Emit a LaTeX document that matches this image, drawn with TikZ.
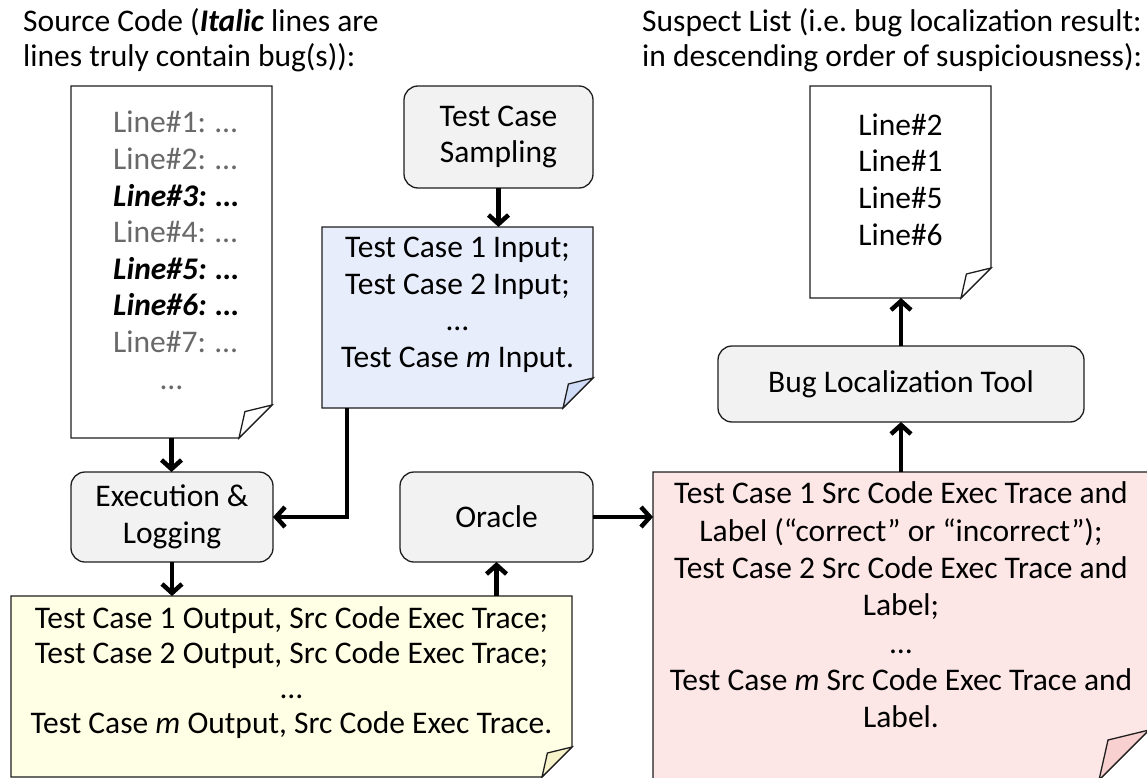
\documentclass[tikz,border=0pt]{standalone}
\usepackage{fontspec}
\setmainfont{Carlito}
\usetikzlibrary{arrows.meta}
\definecolor{procfill}{RGB}{242,242,242}
\definecolor{infill}{RGB}{231,237,251}
\definecolor{inflap}{RGB}{208,220,246}
\definecolor{outfill}{RGB}{255,255,229}
\definecolor{outflap}{RGB}{246,242,202}
\definecolor{trfill}{RGB}{253,230,230}
\definecolor{trflap}{RGB}{248,208,208}
\definecolor{srcgray}{RGB}{105,105,105}
\definecolor{edge}{RGB}{30,30,30}

% document outline with a folded bottom-right corner
% #1 node name, #2 fold size (pt), #3 paper fill, #4 flap fill
\newcommand\foldeddoc[4]{%
  \draw[docline, fill=#3] (#1.north west) -- (#1.north east)
    -- ([yshift=#2pt]#1.south east) -- ([xshift=-#2pt]#1.south east)
    -- (#1.south west) -- cycle;
  \draw[docline, fill=#4] ([yshift=#2pt]#1.south east)
    -- ([shift={(-0.82*#2pt,0.8*#2pt)}]#1.south east)
    -- ([xshift=-#2pt]#1.south east) -- cycle;
}

\begin{document}
\begin{tikzpicture}[x=1pt,y=-1pt,
  every node/.style={font=\fontsize{31.5}{36.6}\selectfont},
  proc/.style={draw=edge, line width=1.3pt, fill=procfill,
    rounded corners=14pt, align=center, inner sep=0pt, outer sep=0pt},
  docbox/.style={inner sep=0pt, outer sep=0pt},
  txt/.style={align=center, inner sep=0pt},
  docline/.style={draw=edge, line width=1.3pt, line join=miter},
  arr/.style={line width=4.5pt, -{Straight Barb[length=9pt,width=20pt]}},
]
\useasboundingbox (0,0) rectangle (1147,778);

% headings
\node[txt, align=left, anchor=west, font=\fontsize{31.5}{35}\selectfont] (srchead) at (23,40.5)
  {Source Code (\textbf{\textit{Italic}} lines are\\lines truly contain bug(s)):};
\node[txt, align=left, anchor=west, font=\fontsize{31.5}{35}\selectfont] (listhead) at (642,40.5)
  {Suspect List (i.e.\ bug localization result:\\in descending order of suspiciousness):};

% source code document
\node[docbox, minimum width=201pt, minimum height=352pt] (src) at (171.5,262) {};
\foldeddoc{src}{33}{white}{white}
\node[txt, align=left, anchor=west, text=srcgray] (srclines) at (113,232)
  {Line\#1: …\\Line\#2: …\\\textcolor{black}{\textbf{\textit{Line\#3: …}}}\\Line\#4: …\\
   \textcolor{black}{\textbf{\textit{Line\#5: …}}}\\\textcolor{black}{\textbf{\textit{Line\#6: …}}}\\Line\#7: …};
\node[txt, text=srcgray, anchor=base] (srcmore) at (171.5,389) {…};

% test case sampling and inputs
\node[proc, minimum width=189pt, minimum height=102pt] (sampling) at (498.5,137)
  {Test Case\\Sampling};
\node[docbox, minimum width=271pt, minimum height=181pt] (inputs) at (457.5,317.5) {};
\foldeddoc{inputs}{30}{infill}{inflap}
\node[txt] (inputtext) at (457.5,305)
  {Test Case 1 Input;\\Test Case 2 Input;\\…\\Test Case \textit{m} Input.};

% suspect list document
\node[docbox, minimum width=181pt, minimum height=212pt] (suspect) at (900.5,192) {};
\foldeddoc{suspect}{30}{white}{white}
\node[txt] (suspecttext) at (900.5,179.5)
  {Line\#2\\Line\#1\\Line\#5\\Line\#6};

% processing steps
\node[proc, minimum width=366pt, minimum height=76pt] (bugtool) at (901,384)
  {Bug Localization Tool};
\node[proc, minimum width=202pt, minimum height=90pt] (exec) at (172,517)
  {Execution \&\\Logging};
\node[proc, minimum width=193pt, minimum height=90pt] (oracle) at (496.5,517)
  {Oracle};

% execution outputs document
\node[docbox, minimum width=561pt, minimum height=181pt] (outputs) at (291.5,686.5) {};
\foldeddoc{outputs}{30}{outfill}{outflap}
\node[txt, font=\fontsize{31.5}{35}\selectfont] (outputtext) at (291.5,672.5)
  {Test Case 1 Output, Src Code Exec Trace;\\Test Case 2 Output, Src Code Exec Trace;\\…\\
   Test Case \textit{m} Output, Src Code Exec Trace.};

% labelled traces document
\node[docbox, minimum width=496pt, minimum height=308pt] (traces) at (901,626) {};
\foldeddoc{traces}{50}{trfill}{trflap}
\node[txt, font=\fontsize{31.5}{37.3}\selectfont] (tracetext) at (901,605)
  {Test Case 1 Src Code Exec Trace and\\Label (“correct” or “incorrect”);\\
   Test Case 2 Src Code Exec Trace and\\Label;\\…\\
   Test Case \textit{m} Src Code Exec Trace and\\Label.};

% connectors
\draw[arr] (src.south) -- (src.south |- exec.north);
\draw[arr] (sampling.south) -- (sampling.south |- inputs.north);
\draw[arr] ([xshift=25pt]inputs.south west) |- (exec.east);
\draw[arr] (exec.south) -- (exec.south |- outputs.north);
\draw[arr] (oracle.south |- outputs.north) -- (oracle.south);
\draw[arr] (oracle.east) -- (oracle.east -| traces.west);
\draw[arr] (bugtool.south |- traces.north) -- (bugtool.south);
\draw[arr] (bugtool.north) -- (bugtool.north |- suspect.south);
\end{tikzpicture}
\end{document}
